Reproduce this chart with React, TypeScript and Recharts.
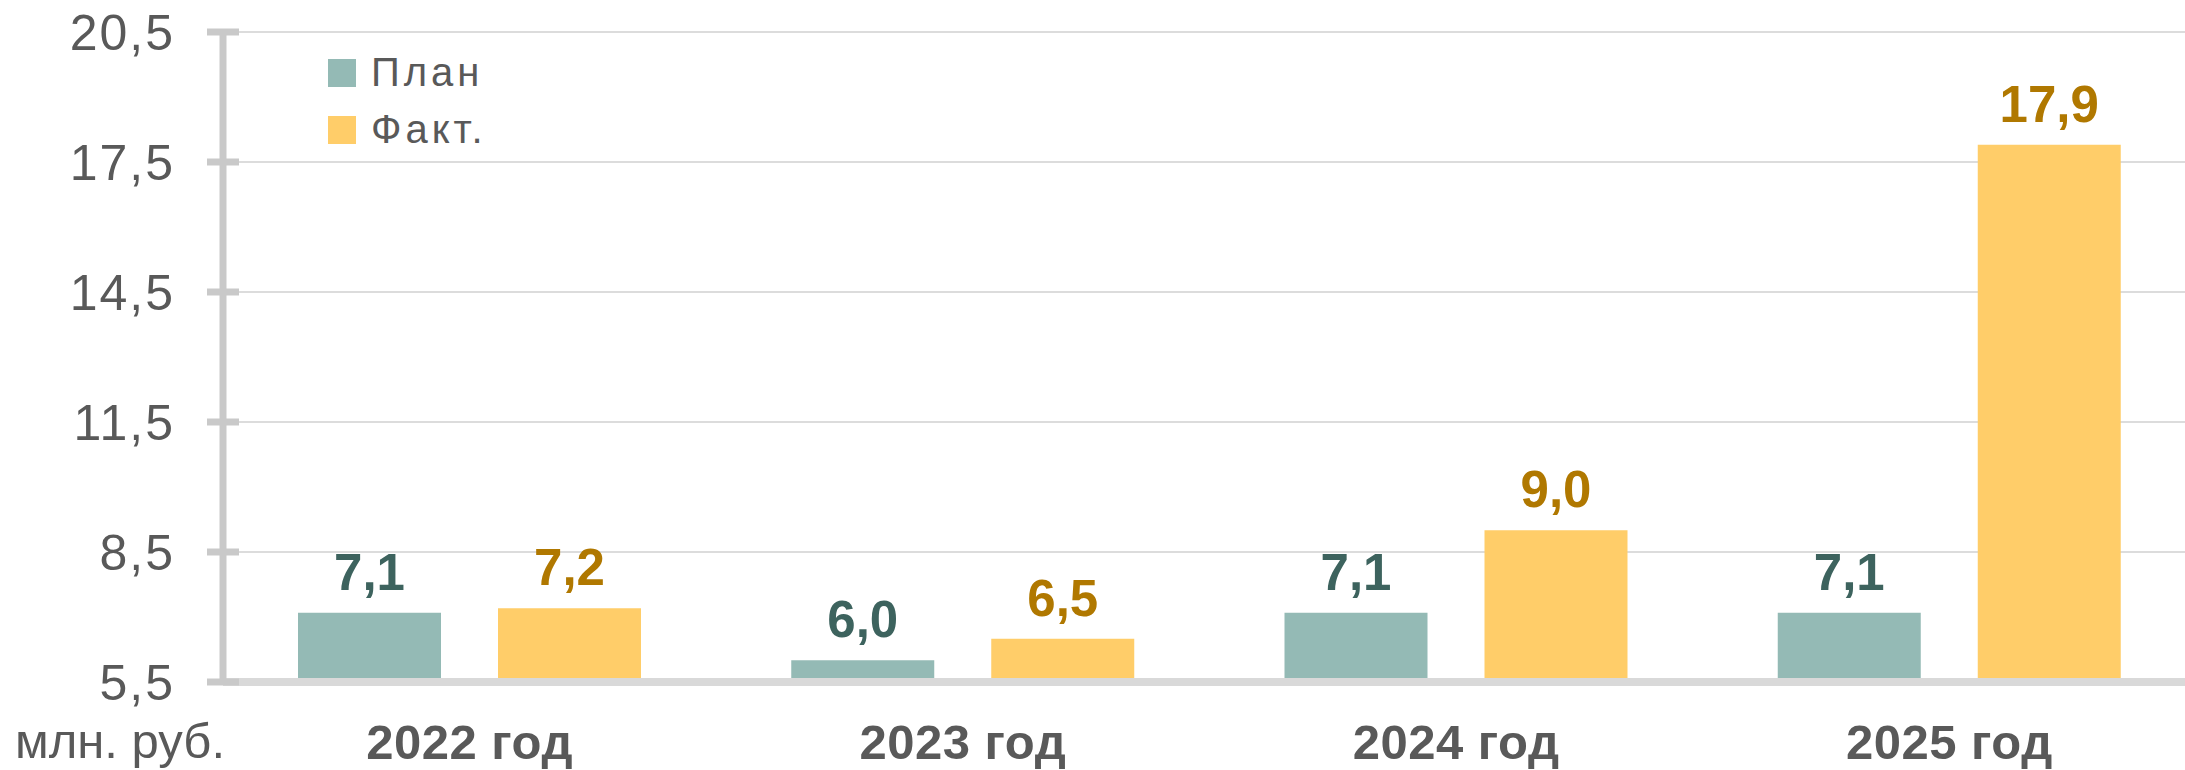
import React from "react";
import {
  BarChart,
  Bar,
  XAxis,
  YAxis,
  CartesianGrid,
  LabelList,
  ReferenceLine,
} from "recharts";

const years = ["2022 год", "2023 год", "2024 год", "2025 год"];
const plan = [7.1, 6.0, 7.1, 7.1];
const fact = [7.2, 6.5, 9.0, 17.9];
const yTicks = [5.5, 8.5, 11.5, 14.5, 17.5, 20.5];
const seriesNames = ["План", "Факт."];

const data = years.map((year, i) => ({ year, plan: plan[i], fact: fact[i] }));

const FONT = "'Liberation Sans', Arial, sans-serif";
const GRAY = "#595959";
const PLAN_COLOR = "#94bab5";
const FACT_COLOR = "#ffcd69";

const fmt = (v: number) => v.toFixed(1).replace(".", ",");

const YTick = ({ x, y, payload }: any) => (
  <g>
    <line x1={x - 16} x2={x + 16} y1={y} y2={y} stroke="#c9c9c9" strokeWidth={7} />
    <text
      x={x - 48}
      y={y}
      dy="0.36em"
      textAnchor="end"
      fontFamily={FONT}
      fontSize={50}
      letterSpacing={2}
      fill={GRAY}
    >
      {fmt(payload.value)}
    </text>
  </g>
);

const XTick = ({ x, y, payload }: any) => (
  <text
    x={x}
    y={y + 77}
    textAnchor="middle"
    fontFamily={FONT}
    fontSize={49}
    fontWeight="bold"
    letterSpacing={0.5}
    fill={GRAY}
  >
    {payload.value}
  </text>
);

const LegendBox = () => (
  <div
    style={{
      position: "absolute",
      left: 328,
      top: 44,
      fontFamily: FONT,
      color: GRAY,
    }}
  >
    {[PLAN_COLOR, FACT_COLOR].map((color, i) => (
      <div
        key={seriesNames[i]}
        style={{ display: "flex", alignItems: "center", height: 57 }}
      >
        <div style={{ width: 28, height: 28, background: color, marginRight: 15 }} />
        <span style={{ fontSize: 40, lineHeight: "57px", letterSpacing: 4 }}>
          {seriesNames[i]}
        </span>
      </div>
    ))}
  </div>
);

export default function App() {
  return (
    <div
      style={{
        position: "absolute",
        left: 0,
        top: 0,
        width: 2185,
        height: 770,
        overflow: "hidden",
        background: "#fff",
      }}
    >
      <BarChart
        width={2200}
        height={770}
        data={data}
        margin={{ top: 32, right: 4, left: 0, bottom: 0 }}
        barSize={143}
        barGap={57}
      >
        <CartesianGrid vertical={false} stroke="#dcdcdc" strokeWidth={2} />
        <XAxis
          dataKey="year"
          height={88}
          axisLine={false}
          tickLine={false}
          tickSize={0}
          tickMargin={0}
          tick={<XTick />}
          interval={0}
        />
        <YAxis
          width={223}
          domain={[5.5, 20.5]}
          ticks={yTicks}
          axisLine={{ stroke: "#c9c9c9", strokeWidth: 7 }}
          tickLine={false}
          tickSize={0}
          tickMargin={0}
          tick={<YTick />}
          interval={0}
        />
        <Bar dataKey="plan" name={seriesNames[0]} fill={PLAN_COLOR} isAnimationActive={false}>
          <LabelList
            dataKey="plan"
            position="top"
            offset={23}
            formatter={(v: any) => fmt(Number(v))}
            fill="#3d635e"
            fontFamily={FONT}
            fontSize={51}
            fontWeight="bold"
          />
        </Bar>
        <Bar dataKey="fact" name={seriesNames[1]} fill={FACT_COLOR} isAnimationActive={false}>
          <LabelList
            dataKey="fact"
            position="top"
            offset={23}
            formatter={(v: any) => fmt(Number(v))}
            fill="#b07800"
            fontFamily={FONT}
            fontSize={51}
            fontWeight="bold"
          />
        </Bar>
        <ReferenceLine y={5.5} stroke="#d9d9d9" strokeWidth={8} />
      </BarChart>
      <LegendBox />
      <div
        style={{
          position: "absolute",
          left: 2,
          top: 717,
          width: 223,
          textAlign: "right",
          fontFamily: FONT,
          fontSize: 49,
          lineHeight: "49px",
          color: GRAY,
          whiteSpace: "nowrap",
        }}
      >
        млн. руб.
      </div>
    </div>
  );
}
